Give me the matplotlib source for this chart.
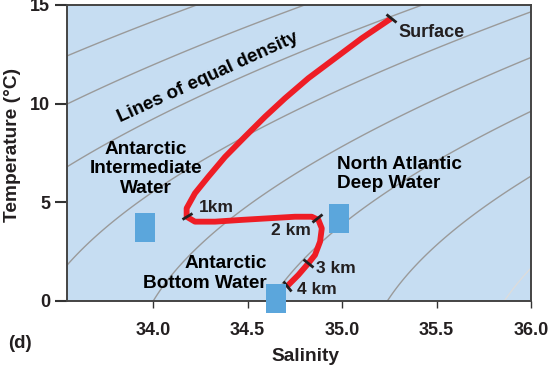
import numpy as np
import matplotlib.pyplot as plt
from matplotlib.markers import MarkerStyle
from matplotlib.patches import Rectangle
from matplotlib.transforms import Affine2D

plt.rcParams['font.family'] = ['Liberation Sans', 'DejaVu Sans']

# T-S profile from the surface down to 4 km
profile_sal = [35.259, 35.254, 35.104, 34.963, 34.822, 34.698, 34.593, 34.487, 34.381, 34.293,
               34.222, 34.178, 34.178, 34.222, 34.328, 34.469, 34.610, 34.751, 34.840, 34.875,
               34.893, 34.884, 34.857, 34.822, 34.769, 34.716, 34.704]
profile_temp = [14.34, 14.28, 13.31, 12.30, 11.29, 10.27, 9.34, 8.33, 7.30, 6.30,
                5.46, 4.70, 4.27, 4.02, 4.02, 4.11, 4.19, 4.27, 4.27, 4.11,
                3.68, 3.01, 2.33, 1.91, 1.32, 0.81, 0.71]

# depth marks on the profile and their labels
depth_labels = ['Surface', '1km', '2 km', '3 km', '4 km']
depth_sal = [35.259, 34.181, 34.866, 34.822, 34.707]
depth_temp = [14.34, 4.30, 4.19, 1.91, 0.74]
depth_label_sal = [35.30, 34.333, 34.73, 34.968, 34.868]
depth_label_temp = [13.63, 4.76, 3.55, 1.67, 0.56]

# water masses (blue boxes)
mass_names = ['Antarctic\nIntermediate\nWater', 'North Atlantic\nDeep Water', 'Antarctic\nBottom Water']
mass_sal = [33.958, 34.985, 34.65]
mass_temp = [3.72, 4.18, 0.13]
mass_label_sal = [33.963, 34.974, 34.603]
mass_label_temp = [6.69, 6.44, 1.39]
mass_align = ['center', 'left', 'right']

# isopycnal levels (sigma-t)
density_levels = [25.38, 25.82, 26.3, 26.82, 27.3, 27.8, 28.3]
faint_levels = [28.8]

x_ticks = [34.0, 34.5, 35.0, 35.5, 36.0]
y_ticks = [0, 5, 10, 15]


def sigma_t(S, T):
    """UNESCO 1981 density at surface pressure, minus 1000."""
    rho_w = (999.842594 + 6.793952e-2 * T - 9.095290e-3 * T**2 + 1.001685e-4 * T**3
             - 1.120083e-6 * T**4 + 6.536332e-9 * T**5)
    A = 8.24493e-1 - 4.0899e-3 * T + 7.6438e-5 * T**2 - 8.2467e-7 * T**3 + 5.3875e-9 * T**4
    B = -5.72466e-3 + 1.0227e-4 * T - 1.6546e-6 * T**2
    C = 4.8314e-4
    return rho_w + A * S + B * S**1.5 + C * S**2 - 1000.0


text_col = '#231f20'

fig = plt.figure(figsize=(5.5, 3.7), dpi=100)
ax = fig.add_axes([0.1218, 0.1865, 0.8437, 0.80])
ax.set_facecolor('#c6ddf2')
ax.set_xlim(33.545, 36.0)
ax.set_ylim(0, 15)

# lines of equal density
ss, tt = np.meshgrid(np.linspace(33.3, 36.3, 300), np.linspace(-1, 16, 300))
dens = sigma_t(ss, tt)
ax.contour(ss, tt, dens, levels=density_levels, colors='#9a9a9a', linewidths=1.0, zorder=1)
ax.contour(ss, tt, dens, levels=faint_levels, colors='#dcdcdc', linewidths=1.0, zorder=1)

# water mass boxes
for s, t in zip(mass_sal, mass_temp):
    ax.add_patch(Rectangle((s - 0.053, t - 0.735), 0.106, 1.47, facecolor='#5ba6dc',
                           edgecolor='none', zorder=5, clip_on=False))

# profile
ax.plot(profile_sal, profile_temp, color='#ee1d25', lw=4.2, solid_capstyle='butt',
        solid_joinstyle='round', zorder=3)

# depth ticks perpendicular to the profile
pts = ax.transData.transform(np.column_stack([profile_sal, profile_temp]))
for s, t in zip(depth_sal, depth_temp):
    i = int(np.argmin((np.array(profile_sal) - s)**2 + (np.array(profile_temp) - t)**2))
    a, b = pts[max(i - 1, 0)], pts[min(i + 1, len(pts) - 1)]
    ang = np.degrees(np.arctan2(b[1] - a[1], b[0] - a[0]))
    m = MarkerStyle('|', transform=Affine2D().rotate_deg(ang))
    ax.plot([s], [t], marker=m, ms=9, mew=2, color=text_col, zorder=4)

for lab, s, t in zip(depth_labels, depth_label_sal, depth_label_temp):
    if lab == 'Surface':
        ax.text(s, t, lab, ha='left', va='center', fontsize=13, fontweight='bold',
                color=text_col, zorder=6)
    else:
        ax.text(s, t, lab, ha='center', va='center', fontsize=12.5, fontweight='bold',
                color=text_col, zorder=6)

for name, s, t, al in zip(mass_names, mass_label_sal, mass_label_temp, mass_align):
    ax.text(s, t, name, ha=al, va='center', multialignment=al, fontsize=13.7,
            fontweight='bold', color='black', linespacing=1.17, zorder=6)

ax.text(34.291, 11.35, 'Lines of equal density', ha='center', va='center', rotation=24.5,
        rotation_mode='anchor', fontsize=13.5, fontweight='bold', color='black', zorder=6)

ax.set_xticks(x_ticks)
ax.set_xticklabels([f'{v:.1f}' for v in x_ticks])
ax.set_yticks(y_ticks)
ax.tick_params(axis='x', length=5, width=1, pad=10, labelsize=13, colors='#333333')
ax.tick_params(axis='y', length=9, width=1.5, pad=3, labelsize=13, colors='#333333')
for lab in ax.get_xticklabels() + ax.get_yticklabels():
    lab.set_fontweight('bold')
    lab.set_color(text_col)
for sp in ax.spines.values():
    sp.set_color('#444444')
    sp.set_linewidth(1.4)

ax.set_xlabel('Salinity', fontsize=13.8, fontweight='bold', color=text_col, va='center')
ax.xaxis.set_label_coords(0.515, -0.189)
ax.set_ylabel('Temperature (°C)', fontsize=13.8, fontweight='bold', color=text_col, va='center')
ax.yaxis.set_label_coords(-0.1185, 0.527)

fig.text(20 / 550, 1 - 343 / 370, '(d)', ha='center', va='center', fontsize=13.5,
         fontweight='bold', color=text_col)

fig.savefig('out.png', dpi=100)
